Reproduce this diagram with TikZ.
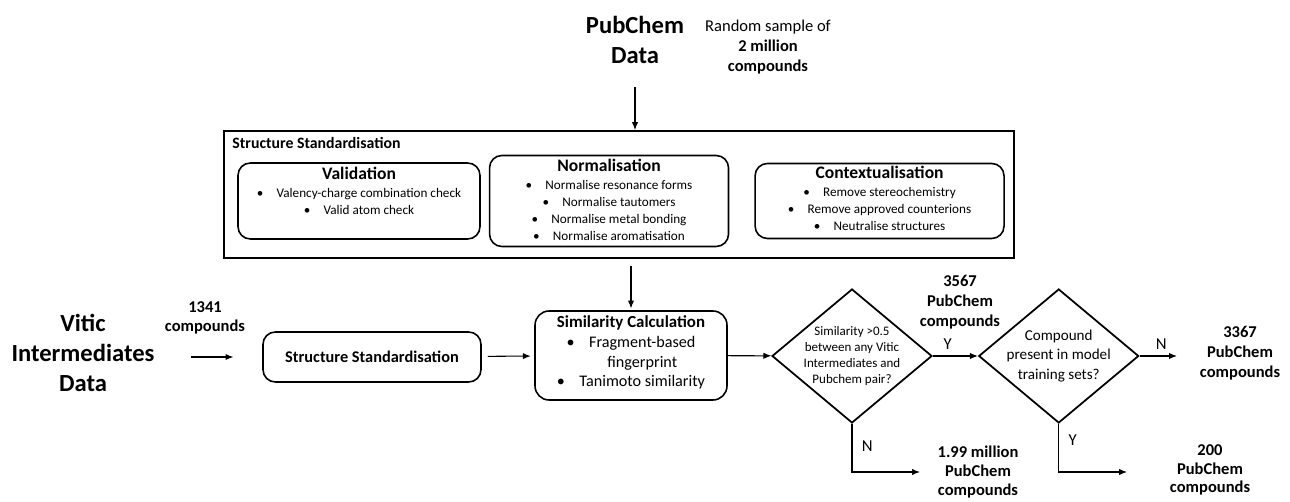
\documentclass[tikz,border=0pt]{standalone}
\usepackage{fontspec}
\setmainfont{Carlito}
\usetikzlibrary{shapes.geometric, arrows.meta, positioning}

\newcommand{\hd}[1]{{\fontsize{10}{12}\selectfont\bfseries #1}}
\newcommand{\itm}[1]{\textbullet\hspace{1em}#1}

\begin{document}
\begin{tikzpicture}[
        x=0.02cm, y=-0.02cm,
        node distance=0.5cm,
        title/.style={align=center, font=\fontsize{14}{17}\selectfont\bfseries},
        note/.style={align=center, font=\fontsize{9.4}{11.2}\selectfont},
        count/.style={align=center, font=\fontsize{9.4}{11.2}\selectfont\bfseries},
        box/.style={rectangle, draw, rounded corners=7pt, line width=0.9pt},
        boxtext/.style={anchor=north, align=center, inner sep=0pt, font=\fontsize{7.5}{9.6}\selectfont},
        dia/.style={diamond, draw, line width=1pt, minimum width=3.2cm, minimum height=2.68cm, inner sep=0pt},
        lbl/.style={font=\fontsize{9.5}{11}\selectfont},
        arr/.style={-{Latex[length=4.5pt,width=3.6pt]}, line width=0.6pt}
    ]
        \useasboundingbox (0,0) rectangle (1290,502);

        % PubChem source
        \node[title] (pubchem) at (635,40) {PubChem\\Data};
        \node[note] (sample) at (768,47) {Random sample of\\\textbf{2 million}\\\textbf{compounds}};

        % standardisation panel
        \node[rectangle, draw, line width=1.1pt, minimum width=15.8cm, minimum height=2.54cm] (std) at (619,194.5) {};
        \node[anchor=north west, inner sep=0pt, font=\fontsize{9}{11}\selectfont\bfseries] (stdhead) at ([shift={(9,7)}]std.north west) {Structure Standardisation};

        \node[box, minimum width=4.84cm, minimum height=1.52cm] (valid) at (359,201) {};
        \node[box, minimum width=4.78cm, minimum height=1.82cm, right=0.16cm of valid] (norm) {};
        \node[box, minimum width=4.98cm, minimum height=1.5cm, right=0.5cm of norm] (context) {};

        \node[boxtext] (validtxt) at ([yshift=-2.5pt]valid.north) {\hd{Validation}\\[1pt]
            \itm{Valency-charge combination check}\\ \itm{Valid atom check}};
        \node[boxtext] (normtxt) at ([yshift=-2.5pt]norm.north) {\hd{Normalisation}\\[0.5pt]
            \itm{Normalise resonance forms}\\ \itm{Normalise tautomers}\\
            \itm{Normalise metal bonding}\\ \itm{Normalise aromatisation}};
        \node[boxtext] (contexttxt) at ([yshift=-1.5pt]context.north) {\hd{Contextualisation}\\[1pt]
            \itm{Remove stereochemistry}\\ \itm{Remove approved counterions}\\
            \itm{Neutralise structures}};

        % Vitic branch
        \node[title] (vitic) at (83,353) {Vitic\\Intermediates\\Data};
        \node[count] (n1341) at (205,318) {1341\\compounds};
        \node[box, minimum width=4.36cm, minimum height=1cm, font=\fontsize{9.3}{11}\selectfont\bfseries] (ssbox) at (372,357) {Structure Standardisation};

        \node[box, rounded corners=8pt, minimum width=3.84cm, minimum height=1.78cm] (sim) at (631,355.5) {};
        \node[boxtext, font=\fontsize{9.2}{11.2}\selectfont] (simtxt) at ([yshift=-3pt]sim.north) {{\fontsize{9.6}{11}\selectfont\bfseries Similarity Calculation}\\
            \textbullet\hspace{0.9em}Fragment-based\\ \phantom{\textbullet\hspace{0.9em}}fingerprint\\
            \textbullet\hspace{0.9em}Tanimoto similarity};

        % decisions
        \node[dia] (simq) at (852,356) {};
        \node[align=center, inner sep=0pt, font=\fontsize{7.4}{9}\selectfont] (simqtxt) at (simq) {Similarity >0.5\\between any Vitic\\Intermediates and\\Pubchem pair?};
        \node[dia, right=0.9cm of simq] (trainq) {};
        \node[align=center, inner sep=0pt, font=\fontsize{8.6}{11}\selectfont] (trainqtxt) at (trainq) {Compound\\present in model\\training sets?};

        \node[count] (n3567) at (960,302) {3567\\PubChem\\compounds};
        \node[count] (n3367) at (1240,353) {3367\\PubChem\\compounds};
        \node[count, font=\fontsize{9.4}{10.6}\selectfont\bfseries] (n199) at (978,472) {1.99 million\\PubChem\\compounds};
        \node[count, font=\fontsize{9.4}{10.6}\selectfont\bfseries] (n200) at (1210,470) {200\\PubChem\\compounds};
        \coordinate (n1end) at (920,472);
        \coordinate (y2end) at (1127,472);

        \draw[arr, shorten <=10pt] (pubchem.south) -- (pubchem.south |- std.north);
        \draw[arr, shorten <=4pt, shorten >=1pt] (std.south -| sim.north) -- (sim.north);
        \draw[arr, shorten <=17pt, shorten >=16.4pt] (vitic.east |- ssbox) -- (ssbox.west);
        \draw[arr, shorten <=3.4pt, shorten >=2pt] (ssbox) -- (sim);
        \draw[arr] (sim) -- (simq);
        \draw[arr] (simq) -- (trainq) node[lbl, pos=0.33, above] (y1) {Y};
        \draw[arr, shorten >=9.6pt] (trainq.east) -- (trainq.east -| n3367.west) node[lbl, pos=0.4, above] (n2) {N};
        \draw[arr] (simq.south) |- (n1end) node[lbl, pos=0.23, right, xshift=2pt] (n1) {N};
        \draw[arr] (trainq.south) |- (y2end) node[lbl, pos=0.17, right, xshift=2pt] (y2) {Y};
    \end{tikzpicture}
\end{document}
